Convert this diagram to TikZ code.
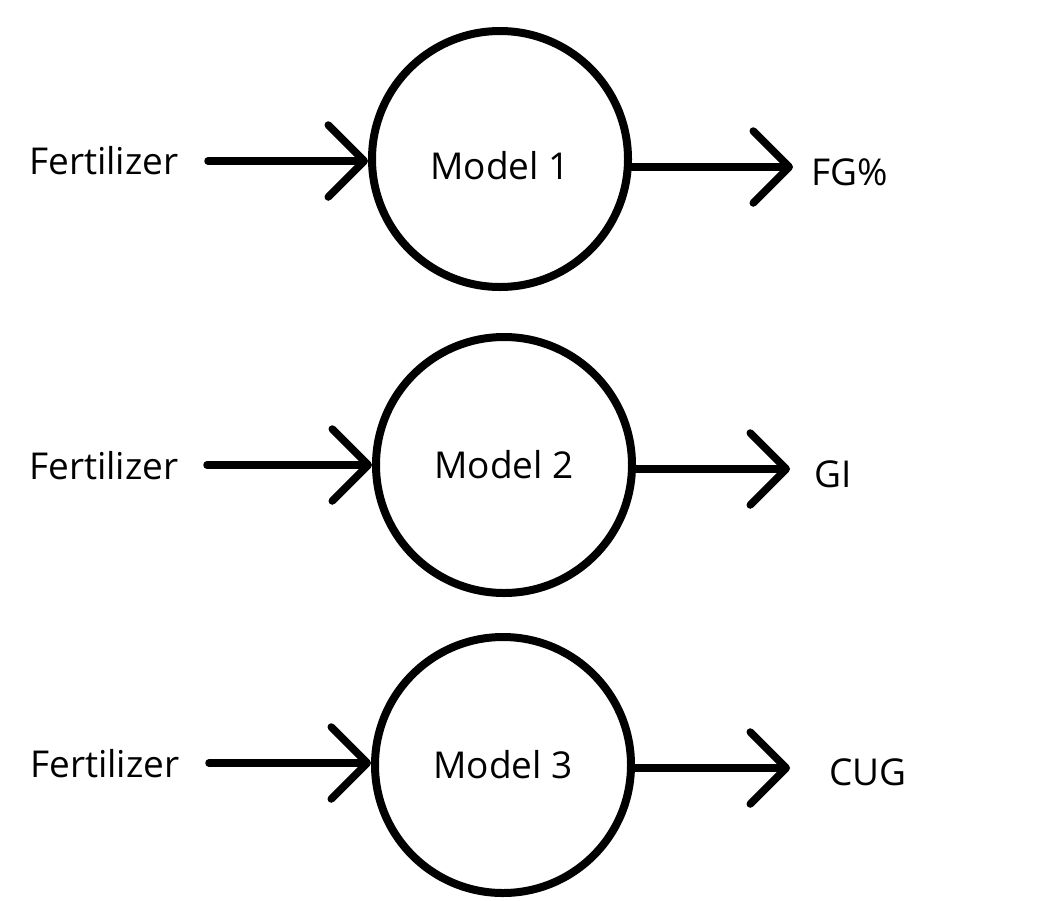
\documentclass[tikz,border=0pt]{standalone}
\usepackage{fontspec}
\setmainfont{Open Sans}
\usetikzlibrary{arrows.meta}
\begin{document}
\begin{tikzpicture}[x=1pt,y=-1pt,
  lbl/.style={font=\fontsize{37}{44}\selectfont, inner sep=0pt, text=black},
  model/.style={circle, draw=black, line width=8pt, minimum size=256pt, inner sep=0pt, font=\fontsize{37}{44}\selectfont},
  conn/.style={line width=7.5pt, line cap=round, -{Straight Barb[length=36pt,width=72pt,round]}}]
\useasboundingbox (0,0) rectangle (1038,900);
\fill[white] (0,0) rectangle (1038,900);
% row 1
\node[model, text height=40pt, text depth=0pt] (m1) at (500,159) {Model 1};
\node[lbl, anchor=west] (f1) at (29,161) {Fertilizer};
\coordinate (s1) at (208,161);
\coordinate (t1) at (793,167);
\node[lbl, anchor=west] (o1) at (811,172) {FG\%};
\draw[conn] (s1) -- (s1 -| m1.west);
\draw[conn] (m1.east |- t1) -- (t1);
% row 2
\node[model] (m2) at (504,465) {Model 2};
\node[lbl, anchor=west] (f2) at (29,466) {Fertilizer};
\coordinate (s2) at (207,465);
\coordinate (t2) at (790,469);
\node[lbl, anchor=west] (o2) at (814,474) {GI};
\draw[conn] (s2) -- (s2 -| m2.west);
\draw[conn] (m2.east |- t2) -- (t2);
% row 3
\node[model] (m3) at (503,765) {Model 3};
\node[lbl, anchor=west] (f3) at (30,764) {Fertilizer};
\coordinate (s3) at (209,763);
\coordinate (t3) at (790,768);
\node[lbl, anchor=west] (o3) at (829,772) {CUG};
\draw[conn] (s3) -- (s3 -| m3.west);
\draw[conn] (m3.east |- t3) -- (t3);
\end{tikzpicture}
\end{document}
